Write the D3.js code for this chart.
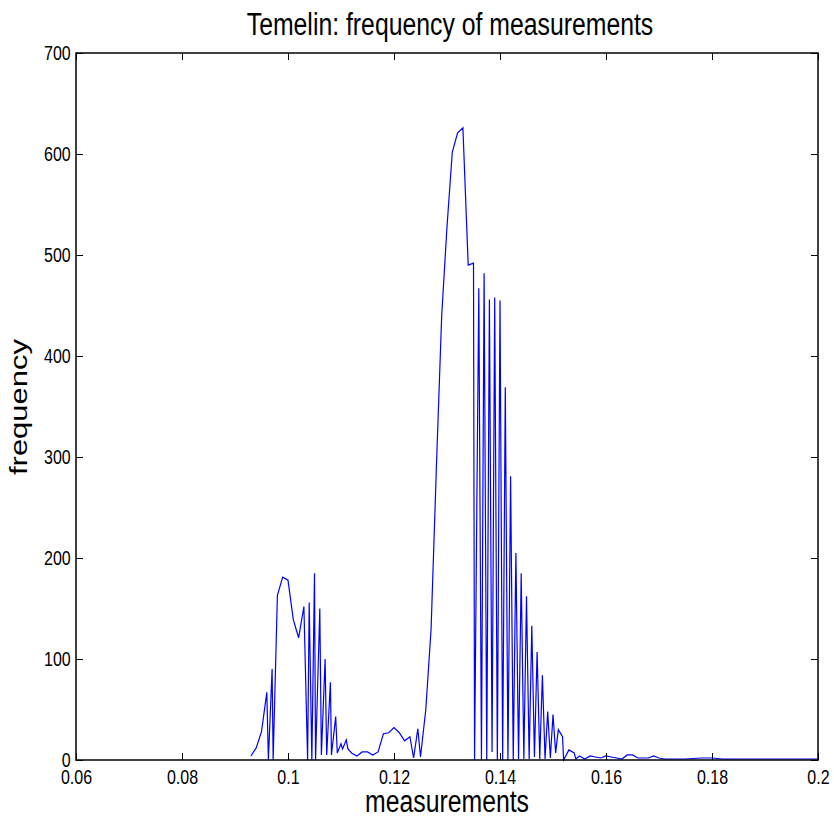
<!DOCTYPE html>
<html>
<head>
<meta charset="utf-8">
<script src="https://cdn.jsdelivr.net/npm/d3@7"></script>
<style>
body { margin: 0; background: #fff; }
text { font-family: "Liberation Sans", Arial, Helvetica, sans-serif; fill: #000; }
</style>
</head>
<body>
<div id="graph"></div>
<script>
// measured value and how often it was seen
var measurements = [
    0.093, 0.094, 0.095, 0.096, 0.0963, 0.097, 0.0972, 0.098, 0.099, 0.100,
    0.101, 0.102, 0.103, 0.1037, 0.104, 0.1045, 0.105, 0.1052, 0.106, 0.1063,
    0.107, 0.1073, 0.108, 0.1082, 0.109, 0.1093, 0.110, 0.1103, 0.111, 0.1113,
    0.112, 0.113, 0.114, 0.115, 0.116, 0.117, 0.118, 0.119, 0.120, 0.121,
    0.122, 0.123, 0.1237, 0.1245, 0.125, 0.126, 0.127, 0.128, 0.129, 0.130,
    0.131, 0.132, 0.133, 0.134, 0.135, 0.1352, 0.136, 0.1365, 0.137, 0.1375,
    0.138, 0.1385, 0.139, 0.1395, 0.140, 0.1405, 0.141, 0.1415, 0.142, 0.1425,
    0.143, 0.1435, 0.144, 0.1445, 0.145, 0.1455, 0.146, 0.1465, 0.147, 0.1475,
    0.148, 0.1485, 0.149, 0.1495, 0.150, 0.1505, 0.151, 0.1518, 0.152, 0.153,
    0.154, 0.1543, 0.155, 0.156, 0.157, 0.158, 0.159, 0.160, 0.161, 0.162,
    0.163, 0.164, 0.165, 0.166, 0.167, 0.168, 0.169, 0.170, 0.171, 0.175,
    0.178, 0.180, 0.182, 0.190, 0.200
];
var frequency = [
    4, 12, 28, 67, 0, 90, 0, 163, 181, 178,
    139, 121, 152, 0, 156, 0, 185, 0, 150, 5,
    100, 5, 77, 5, 43, 7, 16, 11, 20, 11,
    7, 4, 8, 8, 5, 8, 26, 27, 32, 27,
    19, 23, 2, 31, 3, 50, 130, 290, 440, 528,
    602, 621, 626, 490, 492, 0, 467, 0, 482, 0,
    456, 8, 458, 0, 455, 0, 369, 0, 281, 0,
    205, 1, 185, 1, 162, 1, 133, 3, 107, 1,
    84, 1, 48, 2, 45, 7, 30, 23, 0, 10,
    7, 1, 4, 1, 4, 3, 2, 4, 3, 2,
    1, 5, 5, 2, 2, 2, 4, 2, 1, 1,
    2, 2, 1, 1, 1
];

var xTicks = [0.06, 0.08, 0.1, 0.12, 0.14, 0.16, 0.18, 0.2];
var xTickLabels = ['0.06', '0.08', '0.1', '0.12', '0.14', '0.16', '0.18', '0.2'];
var yTicks = [0, 100, 200, 300, 400, 500, 600, 700];

var width = 834,
    height = 825;
var plotLeft = 76,
    plotRight = 818,
    plotTop = 53,
    plotBottom = 760;
var squeeze = 0.8; // text in the picture is drawn narrow

var svg = d3.select('#graph')
    .append('svg')
        .attr('width', width)
        .attr('height', height);

var x = d3.scaleLinear()
    .domain([0.06, 0.2])
    .range([plotLeft, plotRight]);

var y = d3.scaleLinear()
    .domain([0, 700])
    .range([plotBottom, plotTop]);

var points = measurements.map(function(m, i) { return [m, frequency[i]]; });

var line = d3.line()
    .x(function(d) { return x(d[0]); })
    .y(function(d) { return y(d[1]); });

svg.append('path')
    .datum(points)
    .attr('d', line)
    .attr('fill', 'none')
    .attr('stroke', '#0000ff')
    .attr('stroke-width', 1.2)
    .attr('stroke-linejoin', 'miter');

// axes, ticks pointing inward like matlab
function styleAxis(g) {
    g.select('.domain').remove();
    g.attr('font-size', 20).attr('font-family', null);
    g.selectAll('line').attr('stroke', '#000');
    g.selectAll('text').attr('transform', 'scale(' + squeeze + ',1)').attr('fill', '#000');
}

svg.append('g')
    .attr('transform', 'translate(0,' + plotBottom + ')')
    .call(d3.axisBottom(x).tickValues(xTicks).tickSize(-7).tickPadding(10)
        .tickFormat(function(d, i) { return xTickLabels[i]; }))
    .call(styleAxis);

svg.append('g')
    .attr('transform', 'translate(' + plotLeft + ',0)')
    .call(d3.axisLeft(y).tickValues(yTicks).tickSize(-7).tickPadding(6.6))
    .call(styleAxis);

svg.append('g')
    .attr('transform', 'translate(0,' + plotTop + ')')
    .call(d3.axisTop(x).tickValues(xTicks).tickSize(-7).tickFormat(''))
    .call(styleAxis);

svg.append('g')
    .attr('transform', 'translate(' + plotRight + ',0)')
    .call(d3.axisRight(y).tickValues(yTicks).tickSize(-7).tickFormat(''))
    .call(styleAxis);

svg.append('rect')
    .attr('x', plotLeft)
    .attr('y', plotTop)
    .attr('width', plotRight - plotLeft)
    .attr('height', plotBottom - plotTop)
    .attr('fill', 'none')
    .attr('stroke', '#000')
    .attr('stroke-width', 1.5);

// title
svg.append('text')
    .attr('transform', 'translate(450,35) scale(' + squeeze + ',1)')
    .attr('text-anchor', 'middle')
    .style('font-size', '31px')
    .text('Temelin: frequency of measurements');

// x label
svg.append('text')
    .attr('transform', 'translate(447,812) scale(' + squeeze + ',1)')
    .attr('text-anchor', 'middle')
    .style('font-size', '31px')
    .text('measurements');

// y label
svg.append('text')
    .attr('transform', 'translate(27,407) rotate(-90) scale(1,' + squeeze + ')')
    .attr('text-anchor', 'middle')
    .style('font-size', '31px')
    .text('frequency');
</script>
</body>
</html>
